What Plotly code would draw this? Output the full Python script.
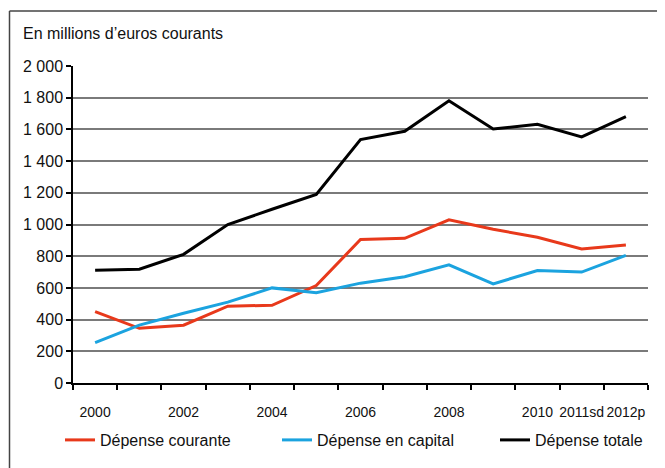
import plotly.graph_objects as go

years = list(range(2000, 2013))
courante = [450, 345, 365, 485, 490, 615, 905, 913, 1030, 970, 920, 845, 870]
capital = [255, 365, 440, 510, 600, 570, 630, 670, 745, 625, 710, 700, 805]
totale = [712, 718, 812, 1000, 1096, 1190, 1536, 1588, 1781, 1603, 1632, 1553, 1680]

tick_years = [2000, 2002, 2004, 2006, 2008, 2010, 2011, 2012]
tick_labels = ["2000", "2002", "2004", "2006", "2008", "2010", "2011sd", "2012p"]
y_ticks = [0, 200, 400, 600, 800, 1000, 1200, 1400, 1600, 1800, 2000]
y_labels = ["0", "200", "400", "600", "800", "1 000", "1 200", "1 400", "1 600", "1 800", "2 000"]

FONT = "Liberation Sans, Arial, sans-serif"
OFF = 8  # page body margin
W, H = 665, 468
# desired on-screen plot area: x 73..648, y 66..383
L, T = 73 - OFF, 66 - OFF
PW, PH = 648 - 73, 383 - 66
R, B = W - L - PW, H - T - PH


def px_x(sx):
    return (sx - OFF - L) / PW


def px_y(sy):
    return (T + PH - (sy - OFF)) / PH


fig = go.Figure()
fig.add_trace(go.Scatter(x=years, y=courante, mode="lines", name="Dépense courante",
                         line=dict(color="#E8391B", width=3), legend="legend"))
fig.add_trace(go.Scatter(x=years, y=capital, mode="lines", name="Dépense en capital",
                         line=dict(color="#1BA3DF", width=3), legend="legend2"))
fig.add_trace(go.Scatter(x=years, y=totale, mode="lines", name="Dépense totale",
                         line=dict(color="#000000", width=3), legend="legend3"))

leg_common = dict(orientation="h", xref="container", yref="container", xanchor="left",
                  yanchor="middle", y=1 - (440 - OFF) / H, itemwidth=30,
                  font=dict(family=FONT, size=16, color="#111111"),
                  bgcolor="rgba(0,0,0,0)")

fig.update_layout(
    width=W, height=H,
    margin=dict(l=L, r=R, t=T, b=B, autoexpand=False),
    paper_bgcolor="white", plot_bgcolor="white",
    font=dict(family=FONT, size=16, color="#111111"),
    showlegend=True,
    legend=dict(x=52 / W, **leg_common),
    legend2=dict(x=269 / W, **leg_common),
    legend3=dict(x=487 / W, **leg_common),
    xaxis=dict(range=[1999.5, 2012.5], tickmode="array", tickvals=tick_years,
               ticktext=tick_labels, ticks="", showgrid=False, zeroline=False,
               showline=True, linecolor="black", linewidth=1.5, tickangle=0,
               automargin=False, ticklabelstandoff=15,
               tickfont=dict(family=FONT, size=14, color="#111111"),
               minor=dict(tickmode="array", tickvals=[y + 0.5 for y in range(1999, 2013)],
                          ticks="outside", ticklen=5, tickcolor="black", tickwidth=1.5,
                          showgrid=False)),
    yaxis=dict(range=[0, 2000], tickmode="array", tickvals=y_ticks, ticktext=y_labels,
               ticks="outside", ticklen=5, tickcolor="black", tickwidth=1.5,
               showgrid=True, gridcolor="#7a7a7a", gridwidth=1.5, zeroline=False,
               showline=True, linecolor="black", linewidth=1.5, automargin=False,
               tickfont=dict(family=FONT, size=16, color="#111111")),
    annotations=[dict(text="En millions d’euros courants", xref="paper", yref="paper",
                      x=px_x(21), y=px_y(34), xanchor="left", yanchor="middle",
                      showarrow=False,
                      font=dict(family=FONT, size=16, color="#111111"))],
    shapes=[
        dict(type="line", xref="paper", yref="paper", x0=px_x(9.5), x1=px_x(672),
             y0=px_y(11), y1=px_y(11), line=dict(color="#444444", width=1.5)),
        dict(type="line", xref="paper", yref="paper", x0=px_x(9.5), x1=px_x(9.5),
             y0=px_y(11), y1=px_y(475), line=dict(color="#444444", width=1.5)),
    ],
)

fig.write_html("out.html")
